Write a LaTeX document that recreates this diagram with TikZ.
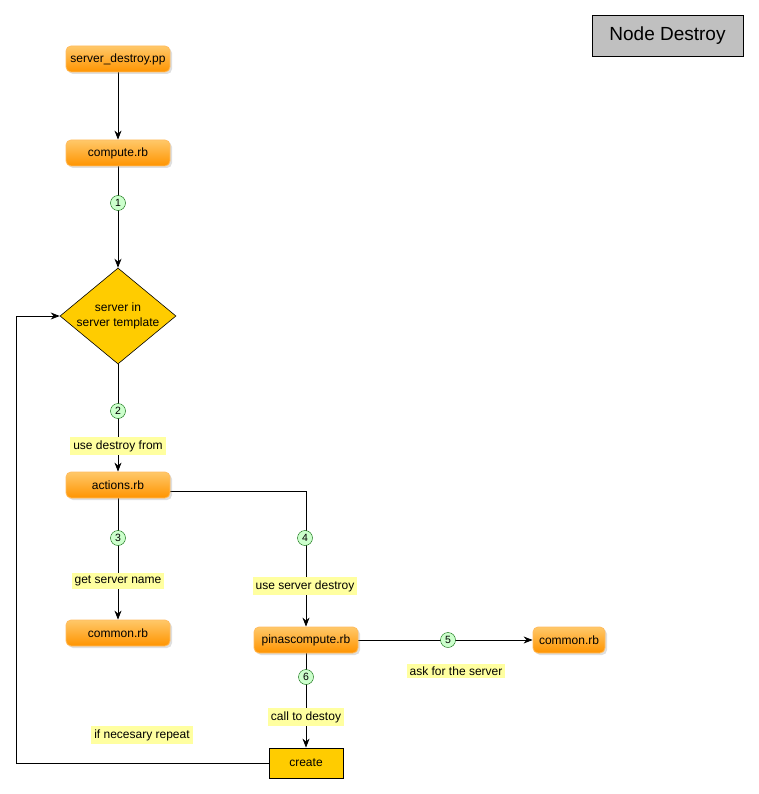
\documentclass[tikz,border=0pt]{standalone}
\usepackage{fontspec}
\setmainfont{Liberation Sans}
\usetikzlibrary{shapes.geometric,arrows.meta,shadows}
\pgfdeclarelayer{background}
\pgfsetlayers{background,main}
\definecolor{orT}{RGB}{255,200,105}
\definecolor{orB}{RGB}{255,148,0}
\definecolor{orD}{RGB}{255,188,95}
\definecolor{gold}{RGB}{255,204,0}
\definecolor{lblY}{RGB}{255,255,160}
\definecolor{numG}{RGB}{204,255,204}
\definecolor{numD}{RGB}{0,100,0}
\definecolor{titG}{RGB}{192,192,192}
\tikzset{
  orbox/.style={rounded corners=5pt, draw=orD, line width=0.8pt, top color=orT, bottom color=orB,
    minimum height=26pt, inner xsep=4pt, font=\fontsize{12}{14}\selectfont,
    drop shadow={shadow xshift=2pt, shadow yshift=-2pt, opacity=0.25}},
  num/.style={circle, draw=numD, fill=numG, minimum size=15pt, inner sep=0pt, font=\fontsize{10.5}{12}\selectfont},
  lbl/.style={fill=lblY, inner xsep=3pt, inner ysep=3pt, font=\fontsize{12}{14}\selectfont},
  conn/.style={draw=black, line width=0.8pt},
  arr/.style={conn, -{Stealth[length=9pt,width=7pt]}},
}
\begin{document}
\begin{tikzpicture}[x=1pt,y=-1pt]
\useasboundingbox (0,0) rectangle (759,794);
% title
\node[draw=black, fill=titG, minimum width=151pt, minimum height=41pt, font=\fontsize{19}{22}\selectfont] (title) at (667.5,35.5) {Node Destroy};
% main nodes
\node[orbox, minimum width=104pt] (sd) at (118,59) {server\_destroy.pp};
\node[orbox, minimum width=104pt] (compute) at (118,153) {compute.rb};
\node[diamond, draw=black, fill=gold, minimum width=116pt, minimum height=96pt, inner sep=0pt, line width=0.6pt] (d) at (118,316) {};
\node[align=center, font=\fontsize{12}{15}\selectfont] (dtext) at (d.center) {server in\\server template};
\node[orbox, minimum width=104pt] (actions) at (118,485) {actions.rb};
\node[orbox, minimum width=104pt] (common1) at (118,633) {common.rb};
\node[orbox, minimum width=104pt] (pinas) at (306,640) {pinascompute.rb};
\node[orbox, minimum width=72pt] (common2) at (569,640) {common.rb};
\node[draw=black, fill=gold, minimum width=74pt, minimum height=30pt, line width=0.8pt, font=\fontsize{12}{14}\selectfont] (create) at (306,763) {create};
% numbers
\node[num] (n1) at (118,203) {1};
\node[num] (n2) at (118,411) {2};
\node[num] (n3) at (118,538) {3};
\node[num] (n4) at (305,538) {4};
\node[num] (n5) at (448,640) {5};
\node[num] (n6) at (306,677) {6};
% labels
\node[lbl] (l2) at (118,446) {use destroy from};
\node[lbl] (l3) at (118,581) {get server name};
\node[lbl] (l4) at (305,586) {use server destroy};
\node[lbl] (l5) at (456,671) {ask for the server};
\node[lbl] (l6) at (306,717) {call to destoy};
\node[lbl] (l7) at (142,735) {if necesary repeat};
\coordinate (loop) at (16,763);
\begin{pgfonlayer}{background}
\draw[arr] (sd) -- (compute);
\draw[arr] (compute) -- (d);
\draw[arr] (d) -- (actions);
\draw[arr] (actions) -- (common1);
\draw[arr] ([yshift=-6pt]actions.east) -| (pinas.north);
\draw[arr] (pinas.east) -- (common2.west);
\draw[arr] (pinas.south) -- (create.north);
\draw[arr] (create.west) -- (loop) |- (d.west);
\end{pgfonlayer}
\end{tikzpicture}
\end{document}
